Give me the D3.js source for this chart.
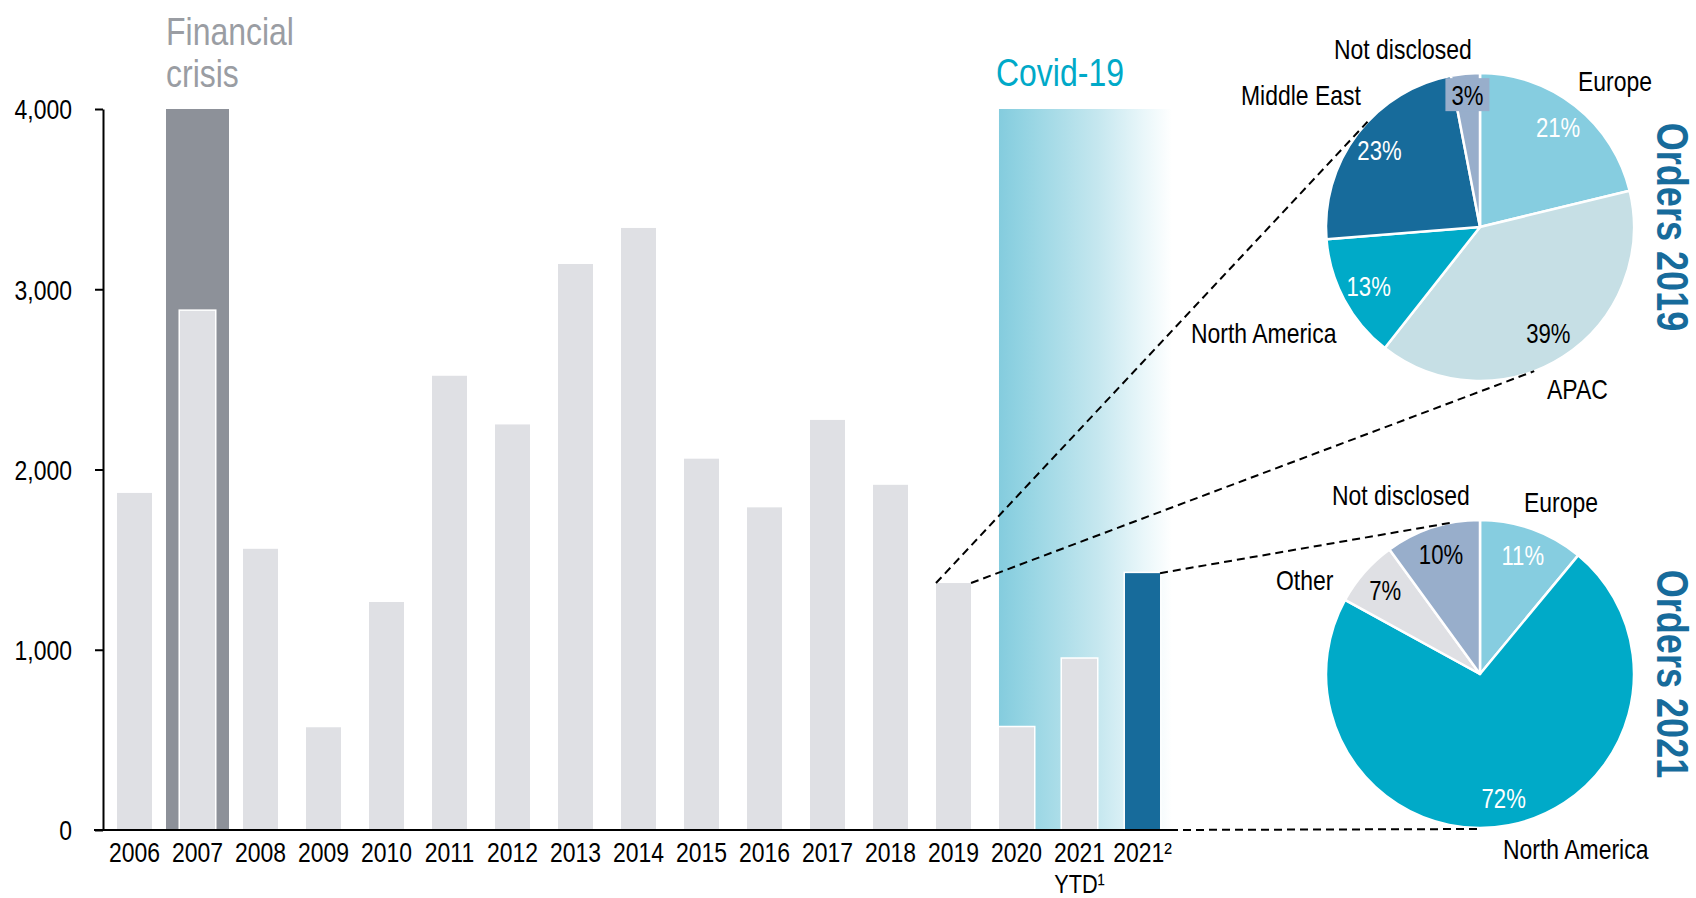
<!DOCTYPE html>
<html>
<head>
<meta charset="utf-8">
<script src="https://cdn.jsdelivr.net/npm/d3@7"></script>
<style>
  html, body { margin: 0; padding: 0; background: #fff; }
  svg { display: block; }
</style>
</head>
<body>
<svg id="chart" width="1696" height="898"></svg>
<script>
// Yearly orders (units)
const categories = ["2006","2007","2008","2009","2010","2011","2012","2013","2014",
                    "2015","2016","2017","2018","2019","2020","2021 YTD¹","2021²"];
const orders = [1870, 2880, 1560, 570, 1265, 2520, 2250, 3140, 3340,
                2060, 1790, 2275, 1915, 1370, 570, 950, 1425];
const yTicks = [0, 1000, 2000, 3000, 4000];

// Regional split of orders
const regions2019 = ["Europe", "APAC", "North America", "Middle East", "Not disclosed"];
const share2019   = [21, 39, 13, 23, 3];
const regions2021 = ["Europe", "North America", "Other", "Not disclosed"];
const share2021   = [11, 72, 7, 10];

// ---- styling ----
const regionColor = {
  "Europe": "#86CDE0", "APAC": "#C6DFE5", "North America": "#00AAC8",
  "Middle East": "#176B9B", "Not disclosed": "#98AECB", "Other": "#DFE0E4"
};
const darkText = new Set(["APAC", "Not disclosed", "Other"]);
const BAR = "#DFE0E4", CRISIS = "#8D9199", HIGHLIGHT = "#176B9B", COVID = "#00A9C8";

function hasFont(name) {
  const c = document.createElement("canvas").getContext("2d");
  const s = "North America 2019";
  c.font = "40px monospace"; const a = c.measureText(s).width;
  c.font = `40px "${name}", monospace`; const b = c.measureText(s).width;
  return Math.abs(a - b) > 0.5;
}
const NARROW = hasFont("Liberation Sans Narrow");
const FONT = NARROW ? "'Liberation Sans Narrow', 'Liberation Sans', Arial, sans-serif"
                    : "'Liberation Sans', Arial, sans-serif";
const SX = NARROW ? 1 : 0.82;

const svg = d3.select("#chart");

function txt(g, x, y, s, o = {}) {
  return g.append("text")
    .attr("transform", `translate(${x},${y})${o.rotate ? ` rotate(${o.rotate})` : ""} scale(${SX},1)`)
    .attr("text-anchor", o.anchor || "start")
    .attr("font-family", FONT)
    .attr("font-size", o.size || 28)
    .attr("font-weight", o.weight || "normal")
    .attr("fill", o.fill || "#000")
    .attr("dy", o.dy || null)
    .text(s);
}

// ---- scales ----
const x = d3.scaleBand().domain(categories).range([103, 1174])
  .paddingInner(0.444).paddingOuter(0.222);
const y = d3.scaleLinear().domain([0, 4000]).range([830, 109]);
const bw = x.bandwidth();
const step = x.step();

// ---- background bands ----
const defs = svg.append("defs");
const grad = defs.append("linearGradient").attr("id", "covidGrad")
  .attr("x1", "0%").attr("x2", "100%").attr("y1", "0%").attr("y2", "0%");
[[0, "#84CCDE"], [0.13, "#92D3E2"], [0.57, "#C5E7EF"], [0.84, "#EAF7FA"], [1, "#FFFFFF"]]
  .forEach(([o, c]) => grad.append("stop").attr("offset", o).attr("stop-color", c));

const covidX0 = x("2020");
const covidX1 = x("2021²") + bw + 12;
svg.append("rect")
  .attr("x", covidX0).attr("y", y(4000))
  .attr("width", covidX1 - covidX0).attr("height", y(0) - y(4000))
  .attr("fill", "url(#covidGrad)");

const crisisX0 = x("2007") - (step - bw) / 2;
svg.append("rect")
  .attr("x", crisisX0).attr("y", y(4000))
  .attr("width", step).attr("height", y(0) - y(4000))
  .attr("fill", CRISIS);

// ---- bars ----
svg.append("g").selectAll("rect")
  .data(categories.map((c, i) => ({ c, v: orders[i] })))
  .join("rect")
  .attr("x", d => x(d.c))
  .attr("y", d => y(d.v))
  .attr("width", bw)
  .attr("height", d => y(0) - y(d.v))
  .attr("fill", d => d.c === "2021²" ? HIGHLIGHT : BAR)
  .attr("stroke", "#fff")
  .attr("stroke-width", 3)
  .attr("paint-order", "stroke");

// ---- axes ----
const yAxis = d3.axisLeft(y).tickValues(yTicks).tickFormat(d3.format(","))
  .tickSize(8).tickSizeOuter(0);
const gy = svg.append("g").attr("transform", `translate(${x.range()[0]},0)`).call(yAxis);
gy.select(".domain").attr("stroke", "#000").attr("stroke-width", 2);
gy.selectAll(".tick line").attr("stroke", "#000").attr("stroke-width", 2);
gy.selectAll(".tick text")
  .attr("x", null)
  .attr("transform", `translate(-31,0) scale(${SX},1)`)
  .attr("dy", "0.35em")
  .attr("font-family", FONT).attr("font-size", 28).attr("fill", "#000");

const baseEnd = x("2021²") + bw + 10;
svg.append("line")
  .attr("x1", x.range()[0] - 9).attr("x2", baseEnd)
  .attr("y1", y(0)).attr("y2", y(0))
  .attr("stroke", "#000").attr("stroke-width", 2);

// category labels (two lines where needed)
const gx = svg.append("g");
categories.forEach(c => {
  const lines = c.split(" ");
  lines.forEach((ln, k) => {
    txt(gx, x(c) + bw / 2, k === 0 ? 862 : 892.5, ln,
        { anchor: "middle", size: k === 0 ? 28 : 26.5 });
  });
});

// ---- period annotations ----
txt(svg, crisisX0, 45, "Financial", { size: 39, fill: "#9A9DA3" });
txt(svg, crisisX0, 87, "crisis", { size: 39, fill: "#9A9DA3" });
txt(svg, covidX0 - 3, 86, "Covid-19", { size: 39, fill: COVID });

// ---- pies ----
const R = 154;
const pieCx = 1480;
const pie1 = { cx: pieCx, cy: 227 };
const pie2 = { cx: pieCx, cy: y(0) - R - 2 };

const pieGen = d3.pie().sort(null).value(d => d.value);
const arc = d3.arc().innerRadius(0).outerRadius(R);

function drawPie(center, names, values, title, nameLabels) {
  const g = svg.append("g").attr("transform", `translate(${center.cx},${center.cy})`);
  const arcs = pieGen(names.map((n, i) => ({ name: n, value: values[i] })));
  g.selectAll("path").data(arcs).join("path")
    .attr("d", arc)
    .attr("fill", d => regionColor[d.data.name])
    .attr("stroke", "#fff").attr("stroke-width", 2.5).attr("stroke-linejoin", "round");

  arcs.forEach(d => {
    const a = (d.startAngle + d.endAngle) / 2;
    const lr = d.data.value < 5 ? R * 0.86 : R * 0.82;
    const px = Math.sin(a) * lr, py = -Math.cos(a) * lr;
    const dark = darkText.has(d.data.name);
    if (d.data.value < 5) {
      g.append("rect")
        .attr("x", px - 22).attr("y", py - 17).attr("width", 44).attr("height", 33)
        .attr("fill", regionColor[d.data.name]);
    }
    txt(g, px, py, d.data.value + "%", {
      anchor: "middle", size: 27, dy: "0.36em", fill: dark ? "#000" : "#fff"
    });
  });

  nameLabels.forEach(([n, dx, dy]) => {
    txt(svg, center.cx + dx, center.cy + dy, n, { size: 28 });
  });

  txt(svg, 1657, center.cy, title, {
    anchor: "middle", size: 44, weight: "bold", fill: HIGHLIGHT, rotate: 90
  });
}

// name label offsets relative to pie centre (left edge, baseline)
drawPie(pie1, regions2019, share2019, "Orders 2019", [
  ["Not disclosed", -146, -168], ["Europe", 98, -136], ["Middle East", -239, -122],
  ["North America", -289, 116], ["APAC", 67, 172]
]);
drawPie(pie2, regions2021, share2021, "Orders 2021", [
  ["Not disclosed", -148, -169], ["Europe", 44, -162], ["Other", -204, -84],
  ["North America", 23, 185]
]);

// ---- connector lines (tangents from bars to pies) ----
function tangentPoint(P, C, r, side) {
  const dx = P[0] - C.cx, dy = P[1] - C.cy;
  const d = Math.hypot(dx, dy);
  const base = Math.atan2(dy, dx);
  const a = Math.acos(r / d);
  const ang = base + side * a;
  return [C.cx + r * Math.cos(ang), C.cy + r * Math.sin(ang)];
}
const links = [];
const p19L = [x("2019"), y(orders[categories.indexOf("2019")])];
const p19R = [x("2019") + bw, y(orders[categories.indexOf("2019")])];
const p21R = [x("2021²") + bw, y(orders[categories.indexOf("2021²")])];
links.push([p19L, tangentPoint(p19L, pie1, R, +1)]);
links.push([p19R, tangentPoint(p19R, pie1, R, -1)]);
links.push([p21R, tangentPoint(p21R, pie2, R, +1)]);
links.push([[baseEnd, y(0)], [pie2.cx, y(0) - 1]]);

svg.append("g").selectAll("line").data(links).join("line")
  .attr("x1", d => d[0][0]).attr("y1", d => d[0][1])
  .attr("x2", d => d[1][0]).attr("y2", d => d[1][1])
  .attr("stroke", "#000").attr("stroke-width", 2).attr("stroke-dasharray", "8,5");
</script>
</body>
</html>
